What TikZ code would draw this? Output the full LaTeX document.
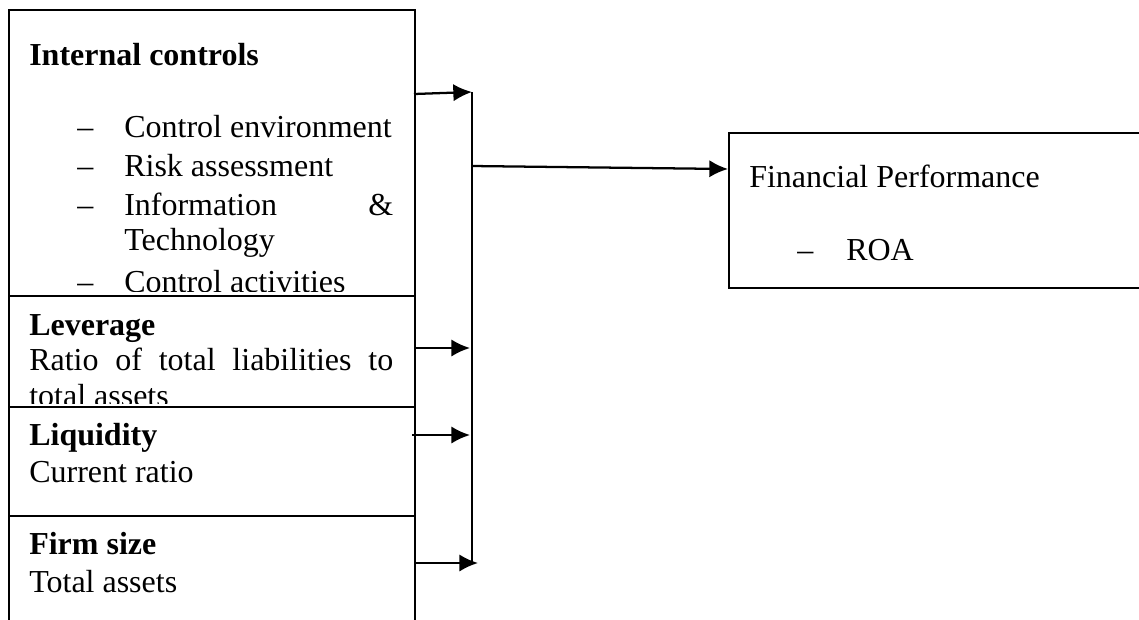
\documentclass[tikz,border=0pt]{standalone}
\usepackage{fontspec}
\setmainfont{Liberation Serif}
\usetikzlibrary{arrows.meta}

\tikzset{
  panel/.style={draw, line width=1.4pt, inner sep=0pt, anchor=north west},
  txt/.style={inner sep=0pt, anchor=base west, font=\fontsize{24}{28}\selectfont},
  hdr/.style={txt, font=\fontsize{24}{28}\selectfont\bfseries},
  feed/.style={line width=1.7pt, -{Latex[length=14pt,width=13pt]}}
}

\begin{document}
\begin{tikzpicture}[x=0.75pt,y=-0.75pt]
    \useasboundingbox (0,0) rectangle (1139,619);
    \clip (0,0) rectangle (1139,619);
    % boxes on the left
    \node[panel, minimum width=304.5pt, minimum height=214.5pt] (ctrl) at (8,9) {};
    \node[panel, minimum width=304.5pt, minimum height=83.25pt] (lev) at (8,295) {};
    \node[panel, minimum width=304.5pt, minimum height=81.75pt] (liq) at (8,406) {};
    \node[panel, minimum width=304.5pt, minimum height=93.75pt] (size) at (8,515) {};
    % outcome box
    \node[panel, minimum width=316.5pt, minimum height=116.25pt] (perf) at (728,132) {};
    % internal controls text
    \begin{scope}
        \clip (ctrl.north west) rectangle (414,291);
        \node[hdr] (ctrlhead) at (29,65) {Internal controls};
        \foreach \y in {137,176,215,292}
            \node[txt] (dash\y) at (77,\y) {–};
        \node[txt] (env) at (124,137) {Control environment};
        \node[txt] (risk) at (124,176) {Risk assessment};
        \node[txt] (info) at (124,215) {\makebox[201.75pt][s]{Information \&}};
        \node[txt] (tech) at (124,250) {Technology};
        \node[txt] (act) at (124,292) {Control activities};
    \end{scope}
    % leverage text
    \begin{scope}
        \clip (lev.north west) rectangle (414,403);
        \node[hdr] (levhead) at (29,335) {Leverage};
        \node[txt] (levratio) at (29,370) {\makebox[273pt][s]{Ratio of total liabilities to}};
        \node[txt] (levrest) at (29,406) {total assets};
    \end{scope}
    % liquidity text
    \node[hdr] (liqhead) at (29,445) {Liquidity};
    \node[txt] (liqratio) at (29,482) {Current ratio};
    % firm size text
    \node[hdr] (sizehead) at (29,554) {Firm size};
    \node[txt] (sizeassets) at (29,592) {Total assets};
    % financial performance text
    \node[txt] (perfhead) at (749,187) {Financial Performance};
    \node[txt] (perfdash) at (797,260) {–};
    \node[txt] (roa) at (846,260) {ROA};
    % collecting line
    \coordinate (bustop) at (472,92);
    \coordinate (busmid) at (472,166);
    \coordinate (busbot) at (472,563);
    \draw[line width=1.5pt] (bustop) -- (busbot);
    % arrows into the collecting line
    \coordinate (ctrlout) at (414,94);
    \coordinate (levout) at (414,348);
    \coordinate (levin) at (470,348);
    \coordinate (liqout) at (412,435);
    \coordinate (liqin) at (470,435);
    \coordinate (sizeout) at (414,563);
    \coordinate (sizein) at (478,563);
    \draw[feed] (ctrlout) -- (bustop);
    \draw[feed] (levout) -- (levin);
    \draw[feed] (liqout) -- (liqin);
    \draw[feed] (sizeout) -- (sizein);
    % arrow to the outcome
    \coordinate (perfin) at (728,169);
    \draw[feed] (busmid) -- (perfin);
\end{tikzpicture}
\end{document}
